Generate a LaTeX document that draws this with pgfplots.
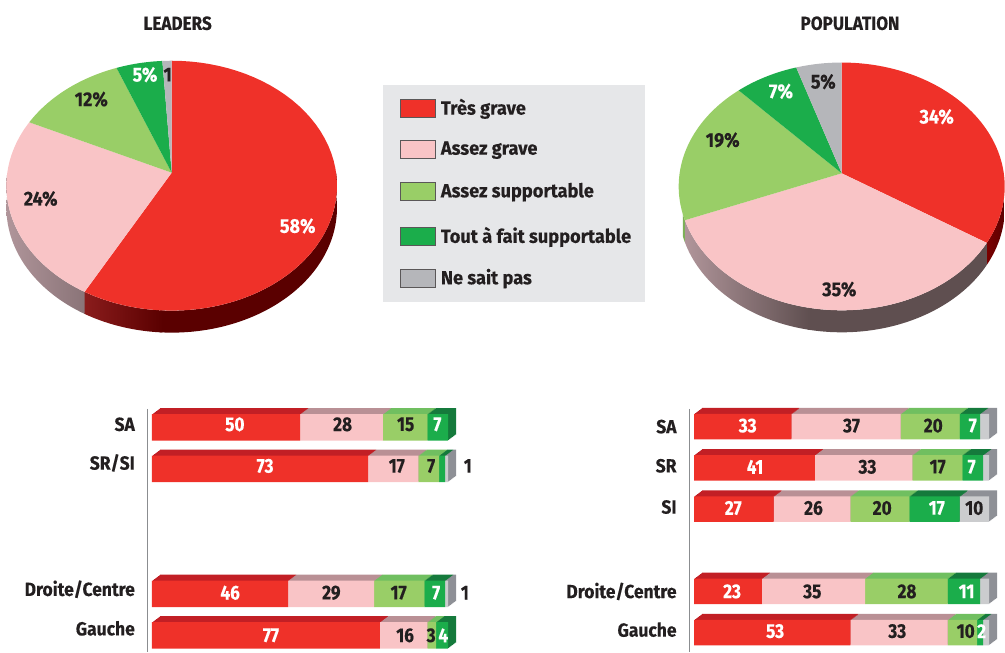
\documentclass[border=0pt]{standalone}
\usepackage{fontspec}
\setmainfont{Fira Sans}
\newfontfamily\fa[FakeStretch=0.96,BoldFeatures={FakeBold=0.25}]{Fira Sans}
\newfontfamily\fb[FakeStretch=0.92,BoldFeatures={FakeBold=0.25}]{Fira Sans}
\newfontfamily\fc[FakeStretch=0.90,BoldFeatures={FakeBold=0.25}]{Fira Sans}
\newfontfamily\fd[FakeStretch=0.86,BoldFeatures={FakeBold=0.25}]{Fira Sans}
\usepackage{pgfplots}
\usepackage{pgfplotstable}
\pgfplotsset{compat=1.18}
\definecolor{cR}{HTML}{EF3129}\definecolor{cP}{HTML}{F9C4C6}\definecolor{cL}{HTML}{99CE67}\definecolor{cG}{HTML}{1BAD4B}\definecolor{cN}{HTML}{CBCCCE}
\definecolor{cPN}{HTML}{B5B6BA}
\definecolor{tR}{HTML}{C21F25}\definecolor{tP}{HTML}{B99095}\definecolor{tL}{HTML}{70BF60}\definecolor{tG}{HTML}{157A3C}\definecolor{tN}{HTML}{8E9096}
\definecolor{ink}{HTML}{231F20}\definecolor{panel}{HTML}{E6E7E9}\definecolor{rule}{HTML}{8B8D90}
\definecolor{wR1}{HTML}{8A1C1C}\definecolor{wR2}{HTML}{5A0000}\definecolor{wP1}{HTML}{B0959A}\definecolor{wP2}{HTML}{96808A}\definecolor{wP3}{HTML}{8A7478}\definecolor{wP4}{HTML}{5F4F50}\definecolor{wR3}{HTML}{7A0000}\definecolor{wL}{HTML}{7DB058}
\colorlet{wRm}{wR1!50!wR2}\colorlet{wPm}{wP1!50!wP4}
% stacked values: row, très grave, assez grave, assez supportable, tout à fait supportable, ne sait pas
\pgfplotstableread{
r a b c d e
0 50 28 15 7 0
1 73 17 7 2 1
4 46 29 17 7 1
5 77 16 3 4 0
}\leadersbars
\pgfplotstableread{
r a b c d e
0 33 37 20 7 3
1 41 33 17 7 2
2 27 26 20 17 10
4 23 35 28 11 3
5 53 33 10 2 2
}\popbars
\newcommand\stackplots[6]{% table, colours
  \addplot[fill=#2,draw=none] table[x=a,y=r]{#1};
  \addplot[fill=#3,draw=none] table[x=b,y=r]{#1};
  \addplot[fill=#4,draw=none] table[x=c,y=r]{#1};
  \addplot[fill=#5,draw=none] table[x=d,y=r]{#1};
  \addplot[fill=#6,draw=none] table[x=e,y=r]{#1};
}
\pgfplotsset{
  barbase/.style={scale only axis,height=243pt,xbar stacked,y dir=reverse,clip=false,xtick=\empty,ytick=\empty},
  leftbars/.style={barbase,width=301pt,xmin=-1.689,xmax=100,ymin=-0.441,ymax=5.4,bar width=26.5pt},
  rightbars/.style={barbase,width=300pt,xmin=-1.695,xmax=100,ymin=-0.428,ymax=5.47,bar width=25.5pt},
  frontaxis/.style={axis y line=left,axis x line=none,axis line style={rule,-,line width=0.9pt}},
}
\newcommand\vl[5][white]{\node[text=#1,font=\fd\fontsize{20}{20}\selectfont\bfseries,inner sep=0pt] at (axis cs:#2,#3) [yshift=#4pt] {#5};}
\newcommand\cat[4]{\node[text=ink,anchor=east,font=\fb\fontsize{19}{19}\selectfont\bfseries,inner sep=0pt] at (axis cs:#1,#2) [yshift=#3pt] {#4};}
\newcommand\tx[4]{\node[text=#3,font=\fc\fontsize{20}{20}\selectfont\bfseries,inner sep=0pt] at ({#1*1pt},{(653-#2)*1pt}) {#4};}
\newcommand\ttl[2]{\node[text=ink,font=\fc\fontsize{19}{19}\selectfont\bfseries,inner sep=0pt] at ({#1*1pt},{(653-23.3)*1pt}) {#2};}
% pie projection
\newcommand\pieX[1]{\pa*sin(3.6*(#1))/(1+\pk*cos(3.6*(#1)))}
\newcommand\pieY[1]{\pb*cos(3.6*(#1))/(1+\pk*cos(3.6*(#1)))}
\newcommand\slice[3]{% from, to (cumulated per cent), colour
  \pgfmathsetmacro\ps{#1}\pgfmathsetmacro\pe{#2}\pgfmathsetmacro\pd{(\pe-\ps)/57}
  \pgfmathsetmacro\plo{\ps-\pd}\pgfmathsetmacro\pup{\pe+\pd}\pgfmathsetmacro\pll{\ps-\pd/2}\pgfmathsetmacro\phh{\pe+\pd/2}
  \addplot[fill=#3,draw=none,domain=\plo:\pup,samples=60]
    ({(x>\pll)*(x<\phh)*\pieX{x}},{(x>\pll)*(x<\phh)*\pieY{x}});
}
\newcommand\wall[5]{% from, to, three colours
  \addplot[left color=#3,middle color=#4,right color=#5,draw=none,domain=0:2,samples=122]
    ({\pieX{#1+(#2-#1)*min(1,1.02*(1-abs(x-1)))}},{\pieY{#1+(#2-#1)*min(1,1.02*(1-abs(x-1)))}-22*(x>1)});
}
\pgfplotsset{pieaxis/.style={hide axis,x=1pt,y=1pt,anchor=origin,clip=false,xmin=-165,xmax=163,ymin=-160,ymax=112}}
\begin{document}
\begin{tikzpicture}
\path[use as bounding box] (0,0) rectangle (1005pt,653pt);
% ---- pies
\def\pk{0.104}\def\pa{164.4}\def\pb{123.6}
\begin{axis}[pieaxis,at={(171.7pt,480.3pt)}]
  \wall{25}{51}{wR2}{wR2}{wR2}
  \wall{50.8}{58}{wR1}{wRm}{wR2}
  \wall{58}{75}{wP1}{wP2}{wP3}
  \slice{0}{58}{cR}
  \slice{58}{82}{cP}
  \slice{82}{94}{cL}
  \slice{94}{99}{cG}
  \slice{99}{100}{cPN}
\end{axis}
\def\pk{0.106}\def\pa{162.1}\def\pb{122.5}
\begin{axis}[pieaxis,at={(841.7pt,479.7pt)}]
  \wall{25}{34}{wR3}{wR2}{wR2}
  \wall{34}{53}{wP4}{wP4}{wP4}
  \wall{52.8}{69}{wP1}{wPm}{wP4}
  \wall{69}{69.8}{wL}{wL}{wL}
  \slice{0}{34}{cR}
  \slice{34}{69}{cP}
  \slice{69}{88}{cL}
  \slice{88}{95}{cG}
  \slice{95}{100}{cPN}
\end{axis}
% ---- bars, leaders
\foreach \k in {8,...,1}{
  \begin{axis}[leftbars,hide axis,at={({(147+\k)*1pt},{(1+0.75*\k)*1pt})},anchor=south west]
    \stackplots{\leadersbars}{tR}{tP}{tL}{tG}{tN}
  \end{axis}
}
\begin{axis}[leftbars,frontaxis,at={(147pt,1pt)},anchor=south west]
  \stackplots{\leadersbars}{cR}{cP}{cL}{cG}{cN}
  \cat{-5.74}{0}{3}{SA}\cat{-5.74}{1}{6}{SR/SI}\cat{-5.74}{4}{4.5}{Droite/Centre}\cat{-5.74}{5}{7}{Gauche}
\end{axis}
\begin{axis}[leftbars,hide axis,at={(147pt,1pt)},anchor=south west]
  \vl{28}{0}{3}{50}\vl[ink]{64.4}{0}{3}{28}\vl[ink]{85.7}{0}{3}{15}\vl{96.4}{0}{3}{7}
  \vl{38.2}{1}{3}{73}\vl[ink]{82.7}{1}{3}{17}\vl[ink]{94.3}{1}{3}{7}\vl[ink]{106.7}{1}{3}{1}
  \vl{26.4}{4}{1}{46}\vl[ink]{60.6}{4}{1}{29}\vl[ink]{83.3}{4}{1}{17}\vl{96}{4}{1}{7}\vl[ink]{105.7}{4}{1}{1}
  \vl{40.2}{5}{0}{77}\vl[ink]{85.5}{5}{0}{16}\vl[ink]{94.3}{5}{0}{3}\vl{98.4}{5}{0}{4}
\end{axis}
% ---- bars, population
\foreach \k in {8,...,1}{
  \begin{axis}[rightbars,hide axis,at={({(689+\k)*1pt},{(1+0.75*\k)*1pt})},anchor=south west]
    \stackplots{\popbars}{tR}{tP}{tL}{tG}{tN}
  \end{axis}
}
\begin{axis}[rightbars,frontaxis,at={(689pt,1pt)},anchor=south west]
  \stackplots{\popbars}{cR}{cP}{cL}{cG}{cN}
  \cat{-5.86}{0}{0}{SA}\cat{-5.86}{1}{2}{SR}\cat{-5.86}{2}{2}{SI}\cat{-5.86}{4}{0}{Droite/Centre}\cat{-5.86}{5}{3}{Gauche}
\end{axis}
\begin{axis}[rightbars,hide axis,at={(689pt,1pt)},anchor=south west]
  \vl{18.2}{0}{1}{33}\vl[ink]{53.4}{0}{1}{37}\vl[ink]{81.1}{0}{1}{20}\vl{94.5}{0}{1}{7}
  \vl{20.7}{1}{1}{41}\vl[ink]{58.8}{1}{1}{33}\vl[ink]{82.6}{1}{1}{17}\vl{94.1}{1}{1}{7}
  \vl{13.3}{2}{1}{27}\vl[ink]{40.5}{2}{1}{26}\vl[ink]{63.8}{2}{1}{20}\vl{82.3}{2}{1}{17}\vl[ink]{95}{2}{1}{10}
  \vl{12.9}{4}{0}{23}\vl[ink]{40.1}{4}{0}{35}\vl[ink]{72.2}{4}{0}{28}\vl{92.4}{4}{0}{11}
  \vl{27.5}{5}{1.5}{53}\vl[ink]{68.9}{5}{1.5}{33}\vl[ink]{92.1}{5}{1.5}{10}\vl{97.5}{5}{1.5}{2}
\end{axis}
% ---- pie labels and titles
\ttl{177.7}{LEADERS}\ttl{850}{POPULATION}
\tx{297.7}{226}{white}{58\%}\tx{40.7}{198.7}{ink}{24\%}\tx{91.3}{99.3}{ink}{12\%}\tx{145}{74.7}{white}{5\%}\tx{167.7}{74.7}{ink}{1}
\tx{936.7}{116.7}{white}{34\%}\tx{839.3}{289.3}{ink}{35\%}\tx{722.7}{140}{ink}{19\%}\tx{781}{91.3}{white}{7\%}\tx{823.3}{81.7}{ink}{5\%}
% ---- legend
\fill[panel] (383pt,351.3pt) rectangle (645pt,568pt);
\foreach \yt/\yb/\c/\l in {99.3/117.3/cR/Très grave,140.7/158.7/cP/Assez grave,182.7/200.7/cL/Assez supportable,227.3/245.7/cG/Tout à fait supportable,269/287.3/cPN/Ne sait pas}{
  \draw[fill=\c,draw=ink!75,line width=0.8pt] (400pt,{(653-\yt)*1pt}) rectangle (435pt,{(653-\yb)*1pt});
  \node[anchor=west,text=ink,inner sep=0pt,font=\fa\fontsize{19}{19}\selectfont\bfseries] at (440.7pt,{(653-(\yt+\yb)/2-0.5)*1pt}) {\l};
}
\end{tikzpicture}
\end{document}
